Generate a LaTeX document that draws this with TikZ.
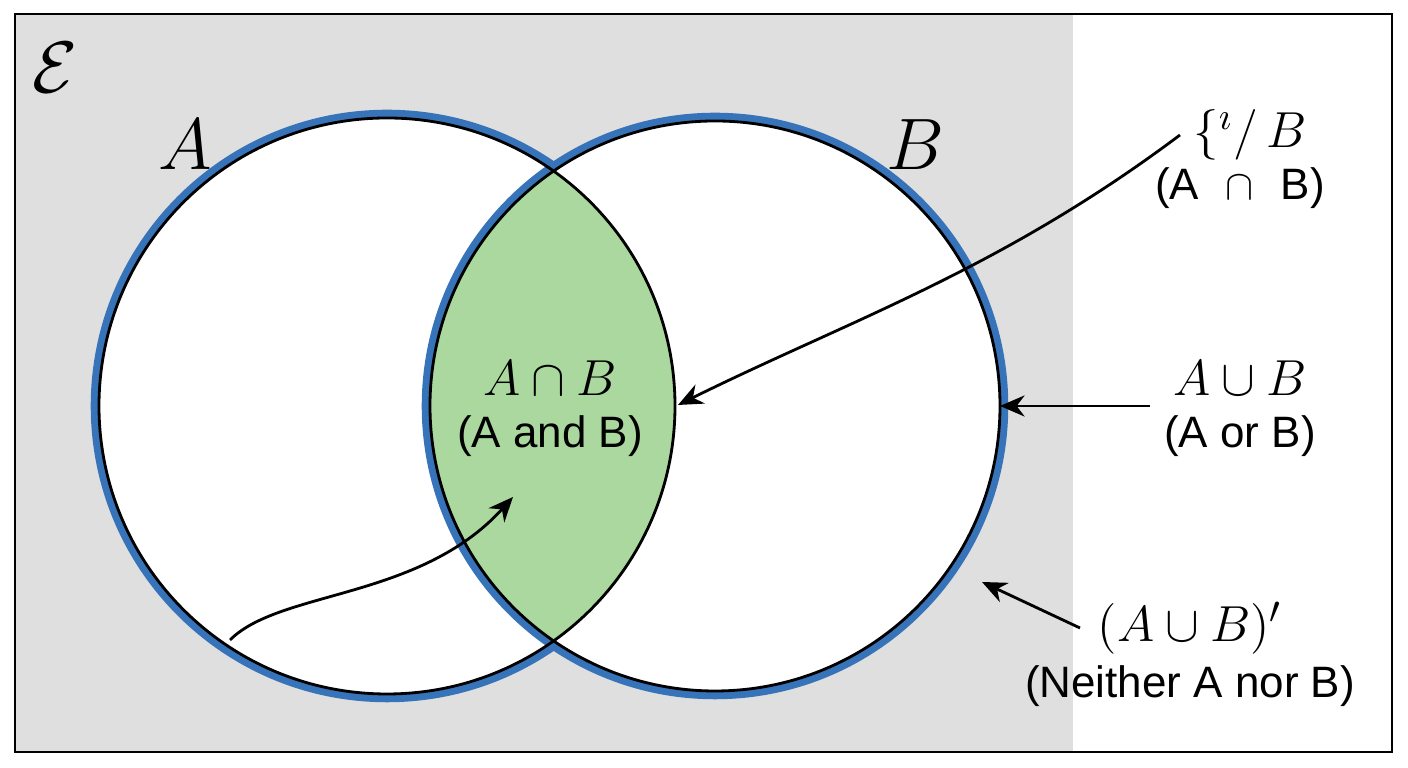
\documentclass[tikz,border=0pt]{standalone}
\usepackage{fontspec}
\newfontfamily\lblfont{Liberation Sans}
\usetikzlibrary{arrows.meta}
\definecolor{ringblue}{RGB}{55,115,185}
\definecolor{lensgreen}{RGB}{170,216,158}
\begin{document}
\begin{tikzpicture}[x=0.01cm,y=-0.01cm,
  lbl/.style={font=\lblfont\fontsize{12.5}{14}\selectfont},
  mth/.style={font=\fontsize{15}{17}\selectfont},
  ring/.style={draw=ringblue,line width=3pt},
  pointer/.style={-{Stealth[length=7pt,width=6pt]},thick}]
% frame and universe
\useasboundingbox (0,0) rectangle (1408,768);
\fill[gray!25] (15,14) rectangle (1073,752);
\draw[thick] (15,14) rectangle (1392,752);
\node[mth,font=\fontsize{20}{22}\selectfont] (E) at (55,68) {$\mathcal{E}$};

% circles
\coordinate (cA) at (387,406);
\coordinate (cB) at (715,406);
\draw[ring] (cA) circle (291);
\fill[white] (cA) circle (288);
\draw[ring] (cB) circle (288);
\fill[white] (cB) circle (285);
\begin{scope}
  \clip (cA) circle (288);
  \fill[lensgreen] (cB) circle (285);
\end{scope}
\draw[thick] (cA) circle (288);
\draw[thick] (cB) circle (285);

% labels
\node[mth,font=\fontsize{20}{22}\selectfont] (A) at (185,145) {$A$};
\node[mth,font=\fontsize{20}{22}\selectfont] (B) at (915,145) {$B$};
\node[mth] (capm) at (550,378) {$A\cap B$};
\node[lbl] (capt) at (550,436) {(A and B)};
\node[mth] (topm) at (1250,135) {$\{^{\imath}/\,B$};
\node[lbl] (topt) at (1240,188) {(A \,\,$\cap$\,\, B)};
\node[mth] (cupm) at (1240,378) {$A\cup B$};
\node[lbl] (cupt) at (1240,436) {(A or B)};
\node[mth] (compm) at (1190,628) {$(A\cup B)'$};
\node[lbl] (compt) at (1190,686) {(Neither A nor B)};

% pointers
\coordinate (lens) at (678,405);
\coordinate (edge) at (1000,406);
\coordinate (outside) at (982,582);
\coordinate (tail) at (230,640);
\coordinate (lensin) at (513,497);
\draw[pointer] (1180,135) .. controls (1000,270) and (850,320) .. (lens);
\draw[pointer] (1150,406) -- (edge);
\draw[pointer] (1080,628) -- (outside);
\draw[pointer] (tail) .. controls (280,590) and (420,600) .. (lensin);
\end{tikzpicture}
\end{document}
